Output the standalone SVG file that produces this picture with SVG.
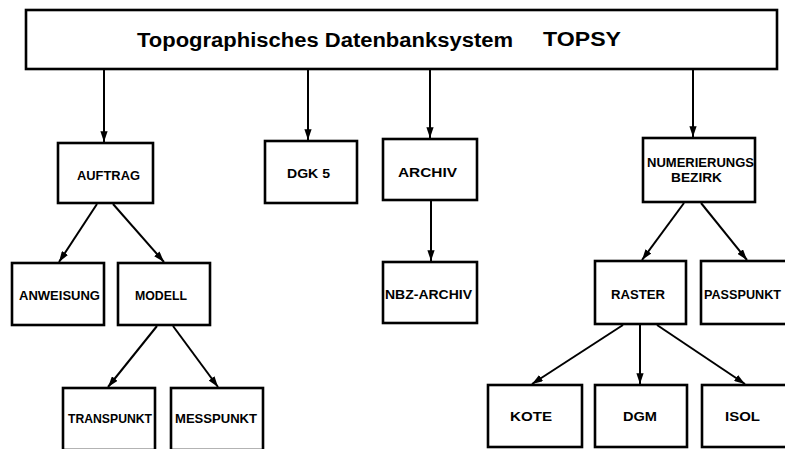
<svg xmlns="http://www.w3.org/2000/svg" width="785" height="449" viewBox="0 0 785 449">
<defs>
<marker id="ah" viewBox="0 0 12 8" refX="12" refY="4" markerWidth="5.5" markerHeight="3.6" orient="auto" markerUnits="strokeWidth">
<path d="M0,0 L12,4 L0,8 Z" fill="#000"/>
</marker>
</defs>
<style>
.box{fill:#fff;stroke:#000;stroke-width:2.6}
.lbl{font-family:"Liberation Sans",Arial,sans-serif;font-weight:bold;font-size:13.5px;fill:#000}
.title{font-family:"Liberation Sans",Arial,sans-serif;font-weight:bold;font-size:20px;fill:#000}
.con line{stroke:#000;stroke-width:2;marker-end:url(#ah)}
</style>
<rect width="785" height="449" fill="#fff"/>
<g id="topsy">
<rect class="box" x="26" y="10" width="751" height="59"/>
<text class="title" x="137" y="47" textLength="376" lengthAdjust="spacingAndGlyphs">Topographisches Datenbanksystem</text>
<text class="title" x="543" y="46" textLength="78" lengthAdjust="spacingAndGlyphs">TOPSY</text>
</g>
<g id="auftrag">
<rect class="box" x="58" y="143" width="95" height="60"/>
<text class="lbl" x="77" y="180" textLength="63" lengthAdjust="spacingAndGlyphs">AUFTRAG</text>
</g>
<g id="dgk5">
<rect class="box" x="265" y="141" width="92" height="62"/>
<text class="lbl" x="287" y="178" textLength="43" lengthAdjust="spacingAndGlyphs">DGK 5</text>
</g>
<g id="archiv">
<rect class="box" x="383" y="139" width="94" height="61"/>
<text class="lbl" x="398" y="177" textLength="59" lengthAdjust="spacingAndGlyphs">ARCHIV</text>
</g>
<g id="numbezirk">
<rect class="box" x="643" y="138" width="112" height="64"/>
<text class="lbl" x="647" y="167" textLength="107" lengthAdjust="spacingAndGlyphs">NUMERIERUNGS</text>
<text class="lbl" x="671" y="182" textLength="51" lengthAdjust="spacingAndGlyphs">BEZIRK</text>
</g>
<g id="anweisung">
<rect class="box" x="12" y="263" width="92" height="62"/>
<text class="lbl" x="19" y="300" textLength="81" lengthAdjust="spacingAndGlyphs">ANWEISUNG</text>
</g>
<g id="modell">
<rect class="box" x="118" y="263" width="92" height="62"/>
<text class="lbl" x="135" y="300" textLength="52" lengthAdjust="spacingAndGlyphs">MODELL</text>
</g>
<g id="nbzarchiv">
<rect class="box" x="383" y="262" width="94" height="61"/>
<text class="lbl" x="385" y="299" textLength="87" lengthAdjust="spacingAndGlyphs">NBZ-ARCHIV</text>
</g>
<g id="raster">
<rect class="box" x="595" y="261" width="91" height="63"/>
<text class="lbl" x="611" y="299" textLength="54" lengthAdjust="spacingAndGlyphs">RASTER</text>
</g>
<g id="passpunkt">
<rect class="box" x="701" y="261" width="92" height="63"/>
<text class="lbl" x="704" y="299" textLength="77" lengthAdjust="spacingAndGlyphs">PASSPUNKT</text>
</g>
<g id="transpunkt">
<rect class="box" x="63" y="388" width="92" height="62"/>
<text class="lbl" x="68" y="423" textLength="84" lengthAdjust="spacingAndGlyphs">TRANSPUNKT</text>
</g>
<g id="messpunkt">
<rect class="box" x="171" y="388" width="92" height="62"/>
<text class="lbl" x="175" y="423" textLength="82" lengthAdjust="spacingAndGlyphs">MESSPUNKT</text>
</g>
<g id="kote">
<rect class="box" x="488" y="385" width="94" height="62"/>
<text class="lbl" x="510" y="421" textLength="42" lengthAdjust="spacingAndGlyphs">KOTE</text>
</g>
<g id="dgm">
<rect class="box" x="595" y="385" width="92" height="62"/>
<text class="lbl" x="623" y="421" textLength="34" lengthAdjust="spacingAndGlyphs">DGM</text>
</g>
<g id="isol">
<rect class="box" x="702" y="385" width="92" height="62"/>
<text class="lbl" x="725" y="421" textLength="35" lengthAdjust="spacingAndGlyphs">ISOL</text>
</g>
<g id="connectors" class="con">
<line x1="104" y1="70" x2="104" y2="142"/>
<line x1="308" y1="70" x2="308" y2="140"/>
<line x1="430" y1="70" x2="430" y2="138"/>
<line x1="693" y1="70" x2="693" y2="137"/>
<line x1="97" y1="204" x2="59" y2="262"/>
<line x1="113" y1="204" x2="164" y2="262"/>
<line x1="157" y1="326" x2="108" y2="387"/>
<line x1="173" y1="326" x2="218" y2="387"/>
<line x1="431" y1="201" x2="431" y2="261"/>
<line x1="684" y1="203" x2="642" y2="260"/>
<line x1="701" y1="203" x2="747" y2="260"/>
<line x1="623" y1="325" x2="532" y2="384"/>
<line x1="640" y1="325" x2="640" y2="384"/>
<line x1="657" y1="325" x2="745" y2="384"/>
</g>
</svg>
